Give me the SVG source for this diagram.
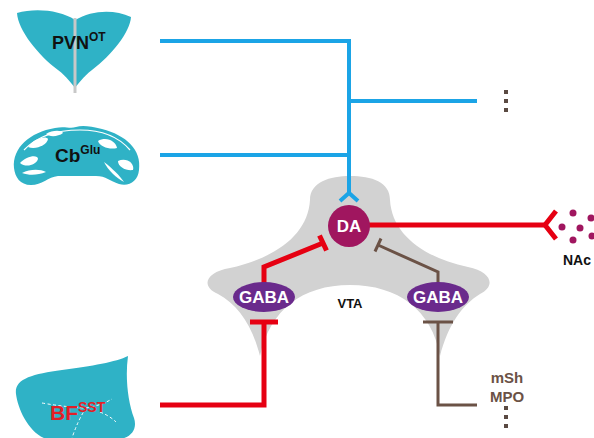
<svg xmlns="http://www.w3.org/2000/svg" width="594" height="438" viewBox="0 0 594 438">
  <style>
    .brain { fill: #2fb2c6; }
    .lbl { font-family: "Liberation Sans", Arial, sans-serif; font-weight: bold; }
    .glu { stroke: #1ba4e6; stroke-width: 4; fill: none; }
    .gaba-r { stroke: #e60012; stroke-width: 5; fill: none; }
    .gaba-b { stroke: #6b5246; stroke-width: 3; fill: none; }
    .dot { fill: #5a4a42; }
  </style>

  <!-- VTA region -->
  <g id="vta">
    <path d="M 310,200 C 310,182 330,176 350,176 C 372,176 390,182 390,200 C 392,235 425,258 468,267 C 492,272 496,286 480,294 C 462,305 448,325 440,356 C 432,310 398,285 350,285 C 302,285 270,310 260,356 C 252,325 238,305 218,294 C 200,286 206,272 230,268 C 275,258 308,235 310,200 Z" fill="#d2d2d2"/>
    <text class="lbl" x="350" y="308" font-size="13" text-anchor="middle" fill="#111">VTA</text>
  </g>

  <!-- connectors -->
  <g id="connectors">
    <!-- glutamatergic / oxytocin input to DA -->
    <polyline class="glu" points="160,41 349,41 349,193"/>
    <line class="glu" x1="160" y1="155" x2="349" y2="155"/>
    <line class="glu" x1="349" y1="101" x2="477" y2="101"/>
    <polyline class="glu" points="340,201 349,193 358,201"/>

    <!-- DA projection to NAc -->
    <line class="gaba-r" x1="360" y1="225" x2="545" y2="225"/>
    <polyline class="gaba-r" points="556,211 545,225 556,239"/>

    <!-- BF SST input onto left GABA -->
    <polyline class="gaba-r" points="160,405 264,405 264,322"/>
    <line class="gaba-r" x1="250" y1="322" x2="278" y2="322"/>

    <!-- left GABA inhibits DA -->
    <polyline class="gaba-r" points="264,283 264,267 323,243"/>
    <line class="gaba-r" x1="319.5" y1="235.5" x2="326.5" y2="250.5"/>

    <!-- right GABA inhibits DA -->
    <polyline class="gaba-b" points="438,283 438,272 378,245"/>
    <line class="gaba-b" x1="375" y1="251.5" x2="381" y2="238.5"/>

    <!-- mSh / MPO input onto right GABA -->
    <polyline class="gaba-b" points="477,405 438,405 438,322"/>
    <line class="gaba-b" x1="423" y1="322" x2="453" y2="322"/>
  </g>

  <!-- dopamine neuron -->
  <g id="da">
    <circle cx="349" cy="226" r="21" fill="#a0165f"/>
    <text class="lbl" x="349" y="232" font-size="17" text-anchor="middle" fill="#fff">DA</text>
  </g>

  <g id="gaba-left">
    <ellipse cx="264" cy="297" rx="31" ry="15" fill="#6a2a8c"/>
    <text class="lbl" x="264" y="303" font-size="17" text-anchor="middle" fill="#fff">GABA</text>
  </g>

  <g id="gaba-right">
    <ellipse cx="438" cy="297" rx="31" ry="15" fill="#6a2a8c"/>
    <text class="lbl" x="438" y="303" font-size="17" text-anchor="middle" fill="#fff">GABA</text>
  </g>

  <!-- PVN oxytocin neurons -->
  <g id="pvn">
    <path class="brain" d="M 75,20 C 60,10 35,8 17,13 C 18,30 38,55 58,70 C 67,77 72,84 75,88 C 78,84 83,77 92,70 C 112,55 130,32 131,17 C 114,9 92,10 75,20 Z"/>
    <line x1="75" y1="18" x2="75" y2="93" stroke="#c8c8c8" stroke-width="3"/>
    <text class="lbl" x="52" y="49" font-size="18" fill="#111">PVN<tspan font-size="12" dy="-8">OT</tspan></text>
  </g>

  <!-- cerebellar glutamatergic neurons -->
  <g id="cb">
    <path class="brain" d="M 14,168 C 12,148 30,132 55,128 C 65,126 70,129 76,127 C 82,125 90,126 102,129 C 126,135 142,150 139,170 C 138,181 129,187 119,184 C 110,181 106,176 96,176 L 58,176 C 48,177 42,185 31,185 C 20,185 15,177 14,168 Z"/>
    <g fill="#fff">
      <path d="M 20,163 C 26,156 38,154 38,159 C 36,165 26,168 20,163 Z"/>
      <path d="M 28,147 C 33,139 46,135 48,139 C 47,145 36,150 28,147 Z"/>
      <path d="M 46,134 C 52,130 62,130 63,133 C 58,137 49,137 46,134 Z"/>
      <path d="M 98,141 C 106,136 116,141 117,148 C 110,150 100,147 98,141 Z"/>
      <path d="M 118,161 C 126,157 135,163 133,170 C 126,171 118,167 118,161 Z"/>
      <path d="M 104,162 C 112,168 120,176 124,182 C 116,178 108,170 104,162 Z"/>
      <path d="M 22,173 C 30,169 40,169 46,172 C 38,175 30,176 22,173 Z"/>
    </g>
    <path d="M 24,150 C 40,133 65,130 80,130 C 100,130 118,136 130,150" fill="none" stroke="#fff" stroke-width="1.2"/>
    <text class="lbl" x="55" y="162" font-size="19" fill="#111">Cb<tspan font-size="12" dy="-8">Glu</tspan></text>
  </g>

  <!-- basal forebrain SST neurons -->
  <g id="bf">
    <path class="brain" d="M 16,394 C 14,379 32,374 62,370 C 92,366 116,362 128,356 C 125,378 128,402 134,418 C 138,430 130,440 112,440 L 50,440 C 30,436 18,410 16,394 Z"/>
    <g fill="none" stroke="#fff" stroke-width="1" stroke-dasharray="3,2.5">
      <path d="M 42,403 Q 65,407 85,408 Q 100,406 112,399"/>
      <path d="M 86,408 Q 78,420 72,438"/>
      <path d="M 100,412 Q 110,416 116,422"/>
    </g>
    <text class="lbl" x="50" y="420" font-size="21" fill="#e21e26">BF<tspan font-size="14" dy="-8">SST</tspan></text>
  </g>

  <!-- nucleus accumbens target -->
  <g id="nac" fill="#a0165f">
    <circle cx="573" cy="213" r="3.5"/>
    <circle cx="562" cy="227" r="3.5"/>
    <circle cx="580" cy="228" r="3.5"/>
    <circle cx="573" cy="240" r="3.5"/>
    <circle cx="591" cy="218" r="3.5"/>
    <circle cx="592" cy="236" r="3.5"/>
    <text class="lbl" x="563" y="265" font-size="14" fill="#111">NAc</text>
  </g>

  <!-- further targets -->
  <g id="more-top">
    <rect class="dot" x="504" y="90" width="4" height="4"/>
    <rect class="dot" x="504" y="99" width="4" height="4"/>
    <rect class="dot" x="504" y="108" width="4" height="4"/>
  </g>

  <g id="msh-mpo">
    <text class="lbl" x="507" y="383" font-size="15" text-anchor="middle" fill="#6b5246">mSh</text>
    <text class="lbl" x="507" y="402" font-size="15" text-anchor="middle" fill="#6b5246">MPO</text>
    <rect class="dot" x="504" y="406" width="4" height="4"/>
    <rect class="dot" x="504" y="415" width="4" height="4"/>
    <rect class="dot" x="504" y="424" width="4" height="4"/>
  </g>
</svg>
